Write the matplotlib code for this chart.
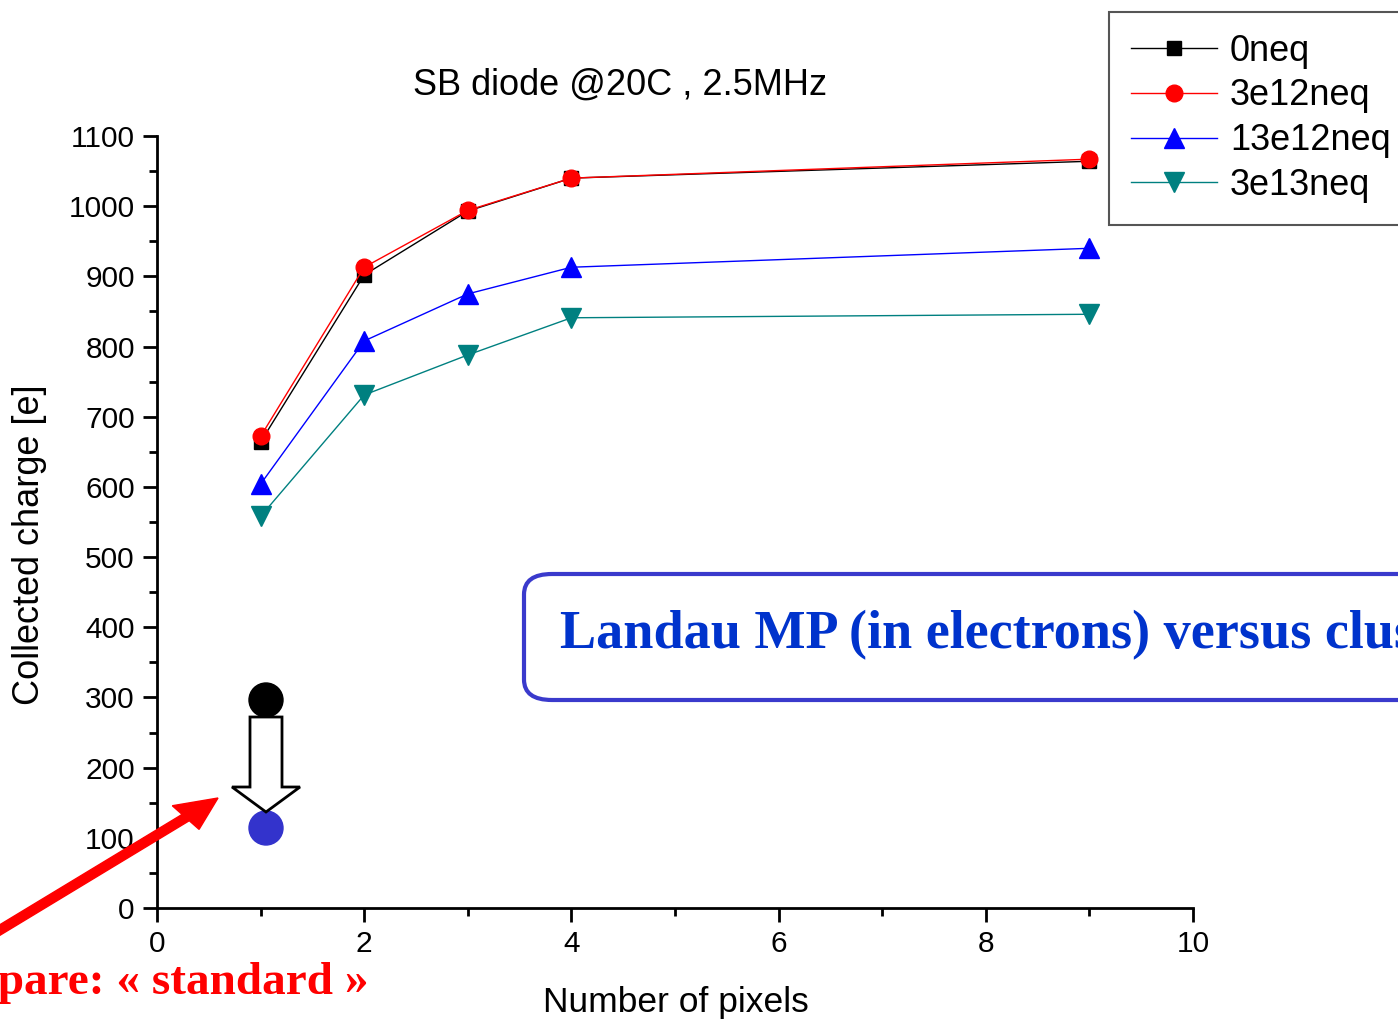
import matplotlib.pyplot as plt
from matplotlib.patches import FancyBboxPatch, FancyArrow, Ellipse
from matplotlib.ticker import MultipleLocator

# data
pixels = [1, 2, 3, 4, 9]
q_0neq = [664, 902, 993, 1040, 1064]
q_3e12 = [672, 913, 994, 1040, 1067]
q_13e12 = [604, 808, 875, 913, 940]
q_3e13 = [558, 731, 788, 841, 846]
labels = ["0neq", "3e12neq", "13e12neq", "3e13neq"]

W, H = 1398, 1022
plt.rcParams['font.family'] = ['Liberation Sans', 'DejaVu Sans']

fig = plt.figure(figsize=(W / 100, H / 100), dpi=100)
ax = fig.add_axes([157 / W, 1 - 908 / H, (1193 - 157) / W, (908 - 136) / H])

ax.plot(pixels, q_0neq, '-s', color='black', lw=1, ms=10, label=labels[0])
ax.plot(pixels, q_3e12, '-o', color='red', lw=1, ms=12, label=labels[1])
ax.plot(pixels, q_13e12, '-^', color='blue', lw=1, ms=14, label=labels[2])
ax.plot(pixels, q_3e13, '-v', color='#008080', lw=1, ms=14, label=labels[3])

ax.set_xlim(0, 10)
ax.set_ylim(0, 1100)
ax.xaxis.set_major_locator(MultipleLocator(2))
ax.xaxis.set_minor_locator(MultipleLocator(1))
ax.yaxis.set_major_locator(MultipleLocator(100))
ax.yaxis.set_minor_locator(MultipleLocator(50))
for s in ['top', 'right']:
    ax.spines[s].set_visible(False)
for s in ['left', 'bottom']:
    ax.spines[s].set_linewidth(2)
ax.tick_params(which='major', direction='out', length=10, width=2, labelsize=21.5, pad=6)
ax.tick_params(which='minor', direction='out', length=6, width=2)

fig.text(30 / W, 1 - 545 / H, "Collected charge [e]", rotation=90,
         ha='center', va='center', fontsize=26)
fig.text(676 / W, 1 - 1002 / H, "Number of pixels", ha='center', va='center', fontsize=25.5)
fig.text(620 / W, 1 - 85 / H, "SB diode @20C , 2.5MHz", ha='center', va='center', fontsize=26)

leg = fig.legend(loc='upper left', bbox_to_anchor=(1109 / W, 1 - 12 / H), fontsize=26,
                 handlelength=2.4, handletextpad=0.35, labelspacing=0.27,
                 borderpad=0.6, fancybox=False, framealpha=1, borderaxespad=0)
leg.get_frame().set_edgecolor('#555555')
leg.get_frame().set_linewidth(1.5)

# blue rounded box with the slide text
box = FancyBboxPatch((524 / W, 1 - 700 / H), 0.75, 126 / H,
                     boxstyle="round,pad=0,rounding_size=0.02",
                     transform=fig.transFigure, facecolor='white',
                     edgecolor='#3a3acc', lw=3, zorder=5)
fig.add_artist(box)
fig.text(560 / W, 1 - 635 / H, "Landau MP (in electrons) versus cluster size",
         fontfamily='Liberation Serif', fontweight='bold', fontsize=39,
         color='#0033cc', ha='left', va='center', zorder=6)

# red arrow and text at bottom left
fig.add_artist(FancyArrow(-10 / W, 1 - 936 / H, 228 / W, 138 / H, width=0.008,
                          head_width=0.03, head_length=0.03,
                          length_includes_head=True, color='red',
                          transform=fig.transFigure, zorder=6))
fig.text(368 / W, 1 - 983 / H, "Compare: « standard »", ha='right', va='center',
         fontfamily='Liberation Serif', fontweight='bold', fontsize=34, color='red')

# circles and hollow arrow
fig.add_artist(Ellipse((266 / W, 1 - 700 / H), 34 / W, 34 / H, color='black',
                       transform=fig.transFigure, zorder=6))
fig.add_artist(Ellipse((266 / W, 1 - 828 / H), 34 / W, 34 / H, color='#3333cc',
                       transform=fig.transFigure, zorder=6))
fig.add_artist(FancyArrow(266 / W, 1 - 717 / H, 0, -95 / H, width=32 / W,
                          head_width=68 / W, head_length=25 / H,
                          length_includes_head=True, facecolor='white',
                          edgecolor='black', lw=2, transform=fig.transFigure,
                          zorder=7))

fig.savefig("out.png", dpi=100)
